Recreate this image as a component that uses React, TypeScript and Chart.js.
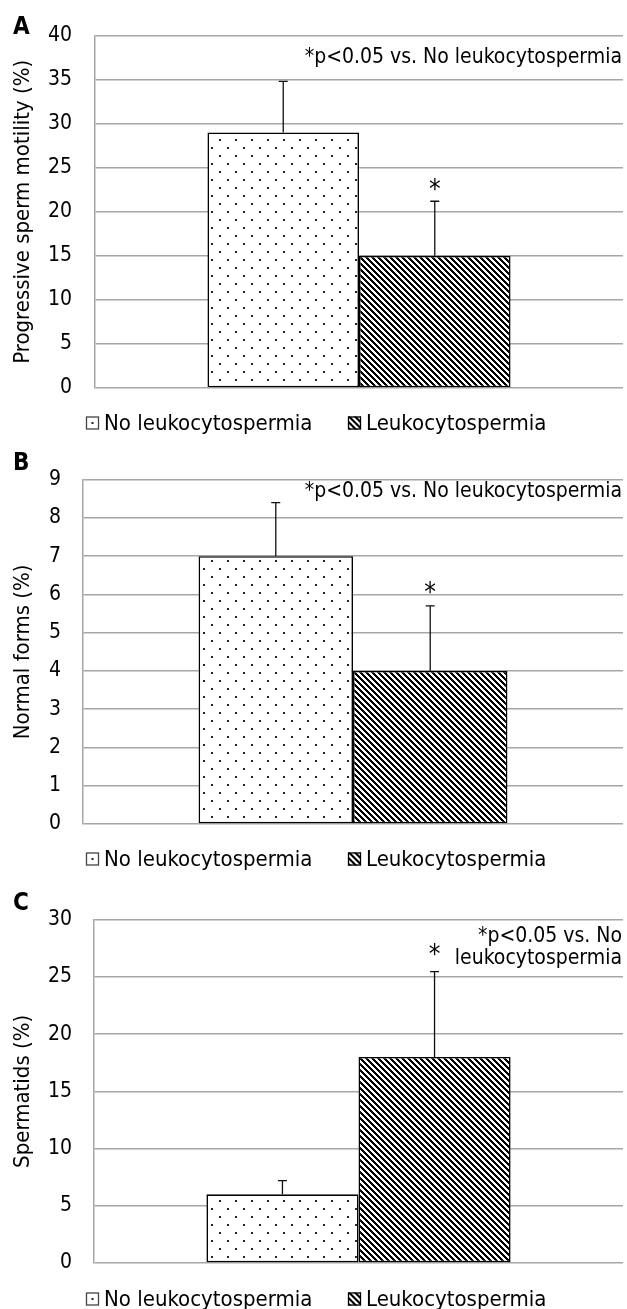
import { useEffect, useRef } from 'react';
import { Chart, registerables } from 'chart.js';

Chart.register(...registerables);

const FONT = '"DejaVu Sans Condensed", "DejaVu Sans", sans-serif';
Chart.defaults.font.family = FONT;
Chart.defaults.color = '#000';

// ---------- data ----------
const categories = [''];
const seriesLabels = ['No leukocytospermia', 'Leukocytospermia'];

// Panel A: progressive sperm motility (%)
const motilityMean = [29, 15];
const motilitySD = [5.8, 6.2];
const motilitySig = [false, true];
const motilityAxis = [0, 40, 5]; // min, max, step

// Panel B: normal forms (%)
const formsMean = [7, 4];
const formsSD = [1.4, 1.7];
const formsSig = [false, true];
const formsAxis = [0, 9, 1];

// Panel C: spermatids (%)
const spermatidsMean = [6, 18];
const spermatidsSD = [1.2, 7.45];
const spermatidsSig = [false, true];
const spermatidsAxis = [0, 30, 5];

const noteOneLine = ['*p<0.05 vs. No leukocytospermia'];
const noteTwoLines = ['*p<0.05 vs. No', 'leukocytospermia'];

// ---------- patterns ----------
function makeDotPattern(): CanvasPattern | string {
  const c = document.createElement('canvas');
  c.width = 16; c.height = 16;
  const g = c.getContext('2d')!;
  g.fillStyle = '#fff';
  g.fillRect(0, 0, 16, 16);
  g.fillStyle = '#222';
  g.fillRect(3, 3, 2, 2);
  g.fillRect(11, 11, 2, 2);
  return g.createPattern(c, 'repeat') || '#fff';
}

function makeHatchPattern(): CanvasPattern | string {
  const p = 6;
  const c = document.createElement('canvas');
  c.width = p; c.height = p;
  const g = c.getContext('2d')!;
  const img = g.createImageData(p, p);
  for (let y = 0; y < p; y++) {
    for (let x = 0; x < p; x++) {
      const d = (((x - y) % p) + p) % p;
      const v = d < 3 ? 0 : 255;
      const k = (y * p + x) * 4;
      img.data[k] = v; img.data[k + 1] = v; img.data[k + 2] = v; img.data[k + 3] = 255;
    }
  }
  g.putImageData(img, 0, 0);
  return g.createPattern(c, 'repeat') || '#000';
}

// ---------- plugins ----------
const errorBarPlugin = {
  id: 'errorBars',
  afterDatasetsDraw(chart: any, _args: any, opts: any) {
    const { ctx } = chart;
    const yScale = chart.scales.y;
    chart.data.datasets.forEach((ds: any, di: number) => {
      const meta = chart.getDatasetMeta(di);
      meta.data.forEach((bar: any, i: number) => {
        const v = ds.data[i];
        const top = yScale.getPixelForValue(v + ds.sd[i]);
        const base = yScale.getPixelForValue(v);
        ctx.save();
        ctx.strokeStyle = '#111';
        ctx.lineWidth = 1.3;
        ctx.beginPath();
        ctx.moveTo(bar.x, base);
        ctx.lineTo(bar.x, top);
        ctx.moveTo(bar.x - 4.5, top);
        ctx.lineTo(bar.x + 4.5, top);
        ctx.stroke();
        if (ds.sig[i]) {
          ctx.fillStyle = '#000';
          ctx.font = `26px ${FONT}`;
          ctx.textAlign = 'center';
          ctx.textBaseline = 'middle';
          ctx.fillText('*', bar.x, top - (opts.starOffset || 16) + 4);
        }
        ctx.restore();
      });
    });
  },
};

const decorPlugin = {
  id: 'decor',
  afterDraw(chart: any, _args: any, opts: any) {
    const { ctx } = chart;
    ctx.save();
    // panel letter
    ctx.fillStyle = '#000';
    ctx.font = `bold 24px ${FONT}`;
    ctx.textAlign = 'left';
    ctx.textBaseline = 'alphabetic';
    ctx.fillText(opts.letter, 13, opts.letterY);
    // note
    ctx.font = `21px ${FONT}`;
    ctx.textAlign = 'right';
    ctx.textBaseline = 'middle';
    opts.note.forEach((line: string, i: number) => {
      ctx.fillText(line, 622, opts.noteY + i * 22);
    });
    // legend
    const xs = [86, 348];
    const box = 13;
    chart.data.datasets.forEach((ds: any, i: number) => {
      const bx = xs[i];
      const cy = opts.legendY;
      ctx.save();
      ctx.translate(bx + box / 2 - 4, cy - 4);
      ctx.fillStyle = ds.backgroundColor;
      ctx.fillRect(-box / 2 + 4, -box / 2 + 4, box, box);
      ctx.restore();
      ctx.strokeStyle = i === 0 ? '#444' : '#000';
      ctx.lineWidth = 1.3;
      ctx.strokeRect(bx + 0.5, cy - box / 2 + 0.5, box - 1, box - 1);
      ctx.fillStyle = '#000';
      ctx.font = `22px ${FONT}`;
      ctx.textAlign = 'left';
      ctx.textBaseline = 'middle';
      ctx.fillText(ds.label, bx + box + 5, cy + 1);
    });
    ctx.restore();
  },
};

// ---------- panel ----------
type PanelProps = {
  top: number;
  height: number;
  mean: number[];
  sd: number[];
  sig: boolean[];
  axis: number[];
  title: string;
  axisLeft: number;
  padTop: number;
  padBottom: number;
  catPct: number;
  tickPad: number;
  letter: string;
  letterY: number;
  note: string[];
  noteY: number;
  legendY: number;
  starOffset: number;
};

function Panel(p: PanelProps) {
  const ref = useRef<HTMLCanvasElement>(null);
  useEffect(() => {
    const canvas = ref.current!;
    const dots = makeDotPattern();
    const hatch = makeHatchPattern();
    const chart = new Chart(canvas, {
      type: 'bar',
      data: {
        labels: categories,
        datasets: [
          {
            label: seriesLabels[0],
            data: p.mean.slice(0, 1),
            backgroundColor: dots as any,
            borderColor: '#000',
            borderWidth: 1.6,
            borderSkipped: false,
            sd: p.sd.slice(0, 1),
            sig: p.sig.slice(0, 1),
          } as any,
          {
            label: seriesLabels[1],
            data: p.mean.slice(1, 2),
            backgroundColor: hatch as any,
            borderColor: '#000',
            borderWidth: 1.6,
            borderSkipped: false,
            sd: p.sd.slice(1, 2),
            sig: p.sig.slice(1, 2),
          } as any,
        ],
      },
      options: {
        responsive: false,
        animation: false,
        devicePixelRatio: 1,
        layout: { padding: { top: p.padTop, bottom: p.padBottom, left: 0, right: 4 } },
        datasets: { bar: { categoryPercentage: p.catPct, barPercentage: 1 } },
        plugins: {
          legend: { display: false },
          tooltip: { enabled: false },
          errorBars: { starOffset: p.starOffset },
          decor: {
            letter: p.letter,
            letterY: p.letterY,
            note: p.note,
            noteY: p.noteY,
            legendY: p.legendY,
          },
        } as any,
        scales: {
          x: { type: 'category', display: false, offset: true },
          y: {
            min: p.axis[0],
            max: p.axis[1],
            ticks: { stepSize: p.axis[2], padding: p.tickPad, color: '#000', font: { size: 21 } },
            grid: { color: '#a6a6a6', lineWidth: 1.5, drawTicks: false },
            border: { display: true, color: '#a6a6a6', width: 1.5 },
            title: {
              display: true,
              text: p.title,
              color: '#000',
              font: { size: 22 },
              padding: { top: 10, bottom: 0 },
            },
            afterFit: (s: any) => {
              s.width = p.axisLeft;
            },
          },
        },
      },
      plugins: [errorBarPlugin, decorPlugin],
    });
    return () => chart.destroy();
  }, []);
  return (
    <canvas
      ref={ref}
      width={627}
      height={p.height}
      style={{ position: 'absolute', left: 0, top: p.top, width: 627, height: p.height, display: 'block' }}
    />
  );
}

export default function App() {
  return (
    <div style={{ position: 'absolute', left: 0, top: 0, width: 627, height: 1309, background: '#fff', overflow: 'hidden' }}>
      <Panel
        top={0}
        height={445}
        mean={motilityMean}
        sd={motilitySD}
        sig={motilitySig}
        axis={motilityAxis}
        title="Progressive sperm motility (%)"
        axisLeft={95}
        padTop={35}
        padBottom={57}
        catPct={0.574}
        tickPad={23}
        letter="A"
        letterY={34}
        note={noteOneLine}
        noteY={58}
        legendY={423}
        starOffset={14}
      />
      <Panel
        top={445}
        height={440}
        mean={formsMean}
        sd={formsSD}
        sig={formsSig}
        axis={formsAxis}
        title="Normal forms (%)"
        axisLeft={83}
        padTop={25}
        padBottom={61}
        catPct={0.572}
        tickPad={22}
        letter="B"
        letterY={25}
        note={noteOneLine}
        noteY={47}
        legendY={414}
        starOffset={16}
      />
      <Panel
        top={885}
        height={424}
        mean={spermatidsMean}
        sd={spermatidsSD}
        sig={spermatidsSig}
        axis={spermatidsAxis}
        title="Spermatids (%)"
        axisLeft={94}
        padTop={26}
        padBottom={46}
        catPct={0.575}
        tickPad={22}
        letter="C"
        letterY={25}
        note={noteTwoLines}
        noteY={52}
        legendY={414}
        starOffset={19}
      />
    </div>
  );
}
